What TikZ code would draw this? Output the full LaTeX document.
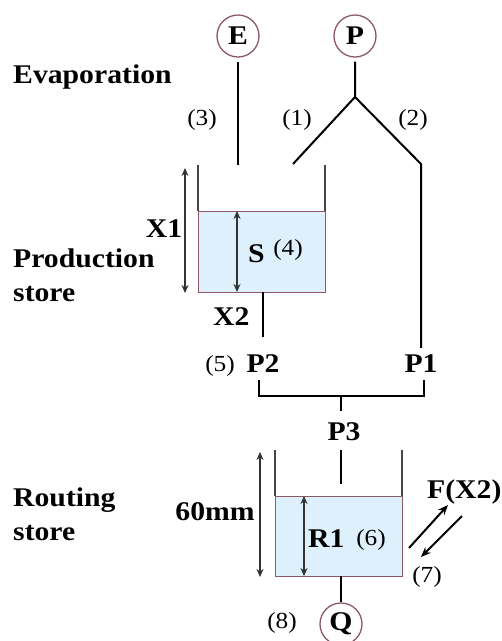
\documentclass[tikz,border=0pt]{standalone}
\usepackage{fontspec}
\setmainfont{Liberation Serif}[FakeStretch=1.1]
\usetikzlibrary{arrows.meta,positioning}
\definecolor{waterblue}{RGB}{221,240,252}
\definecolor{rimred}{RGB}{140,90,100}
\definecolor{wallgray}{RGB}{70,70,70}

\begin{document}
\begin{tikzpicture}[x=1pt,y=-1pt,
  lbl/.style={inner sep=0pt,font=\fontsize{27}{34}\selectfont\bfseries},
  num/.style={inner sep=0pt,font=\fontsize{23}{28}\selectfont},
  ext/.style={circle,draw=rimred,line width=1.3pt,minimum size=42pt,inner sep=0pt,font=\fontsize{27}{34}\selectfont\bfseries},
  flow/.style={line width=2pt},
  wall/.style={draw=wallgray,line width=1.2pt},
  water/.style={fill=waterblue,draw=rimred,line width=1pt},
  dimarr/.style={line width=1.2pt,draw=black!80,{Stealth[length=8pt,width=7pt]}-{Stealth[length=8pt,width=7pt]}},
  tip/.style={flow,-{Stealth[length=10pt,width=8pt]}}]

\useasboundingbox (0,0) rectangle (502,641);

\path[water] (198,211) rectangle (325,292);
\draw[wall] (198,165) -- (198,211);
\draw[wall] (325,165) -- (325,211);
\path[water] (275,496) rectangle (402,576);
\draw[wall] (275,450) -- (275,496);
\draw[wall] (402,450) -- (402,496);

\node[ext] (E) at (238,36) {E};
\node[ext] (P) at (355,36) {P};
\node[ext] (Q) at (341,624) {Q};

\node[lbl,anchor=base west] (evap) at (13,83) {Evaporation};
\node[lbl,anchor=base west,align=left] (prod) at (13,301) {Production\\store};
\node[lbl,anchor=base west,align=left] (rout) at (13,540) {Routing\\store};

\node[num] (n3) at (202,120) {(3)};
\node[num] (n1) at (297,120) {(1)};
\node[num] (n2) at (413,120) {(2)};
\node[num] (n4) at (288,250) {(4)};
\node[num] (n5) at (220,366) {(5)};
\node[num] (n6) at (371,540) {(6)};
\node[num] (n7) at (427,577) {(7)};
\node[num] (n8) at (282,623) {(8)};

\node[lbl] (X1) at (164,229) {X1};
\node[lbl,anchor=base west] (S) at (248,262) {S};
\node[lbl,anchor=base west] (X2) at (213,325) {X2};
\node[lbl,anchor=base] (P2) at (263,372) {P2};
\node[lbl,anchor=base] (P1) at (421,372) {P1};
\node[lbl,anchor=base] (P3) at (344,440) {P3};
\node[lbl,anchor=base] (mm) at (215,520) {60mm};
\node[lbl,anchor=base west] (R1) at (308,547) {R1};
\node[lbl,anchor=base west] (FX) at (427,498) {F(X2)};

\coordinate (split) at (355,97);
\coordinate (e-in) at (238,165);
\coordinate (in1) at (293,164);
\coordinate (bend) at (421,164);
\coordinate (s-out) at (263,292);
\coordinate (p2-foot) at (259,380);
\coordinate (p1-foot) at (424,380);
\coordinate (merge) at (341,396);
\coordinate (p3-top) at (341,411);
\coordinate (r-top) at (341,450);
\coordinate (r-in) at (341,484);
\coordinate (r-out) at (341,576);
\coordinate (fx-a) at (409,548);
\coordinate (fx-b) at (448,505);
\coordinate (fx-c) at (462,516);
\coordinate (fx-d) at (421,557);

\draw[flow,shorten <=4pt] (E) -- (e-in);
\draw[flow,shorten <=4pt] (P) -- (split) -- (in1);
\draw[flow,shorten >=6pt] (split) -- (bend) -- (P1);
\draw[flow,shorten >=17pt] (s-out) -- (P2);
\draw[flow] (p2-foot) -- (p2-foot |- merge) -- (p1-foot |- merge) -- (p1-foot);
\draw[flow] (merge) -- (p3-top);
\draw[flow] (r-top) -- (r-in);
\draw[flow] (r-out) -- (Q);
\draw[tip] (fx-a) -- (fx-b);
\draw[tip] (fx-c) -- (fx-d);

\draw[dimarr] (185,168) -- (185,293);
\draw[dimarr] (237,211) -- (237,292);
\draw[dimarr] (260,452) -- (260,577);
\draw[dimarr] (304,496) -- (304,576);
\end{tikzpicture}
\end{document}
